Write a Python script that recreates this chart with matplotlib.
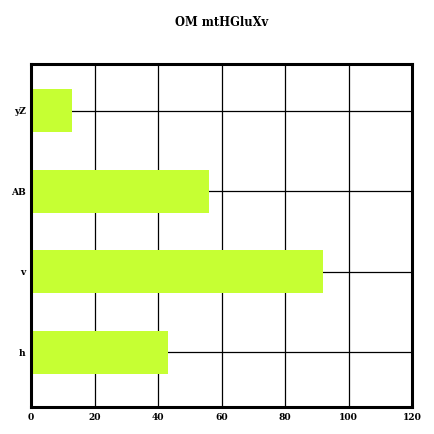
import matplotlib
matplotlib.use('Agg')
import matplotlib.pyplot as plt

# data
categories = ['h', 'v', 'AB', 'yZ']
values = [43, 92, 56, 13]
x_ticks = [0, 20, 40, 60, 80, 100, 120]

plt.rcParams['font.family'] = ['DejaVu Serif']
plt.rcParams['font.weight'] = 'bold'

fig = plt.figure(figsize=(4.34, 4.34), dpi=100)
ax = fig.add_axes([31 / 434, 27 / 434, 381 / 434, 343 / 434])

ax.barh(categories, values, height=0.53, color='#c6ff33', zorder=2)

ax.set_xlim(0, 120)
ax.set_ylim(-0.68, 3.58)
ax.set_xticks(x_ticks)
ax.grid(True, color='black', linewidth=0.9, zorder=0)
ax.set_axisbelow(True)
ax.tick_params(length=0, labelsize=6.6, pad=4)
for s in ax.spines.values():
    s.set_linewidth(2.2)
    s.set_color('black')
for lbl in ax.get_xticklabels() + ax.get_yticklabels():
    lbl.set_fontweight('bold')

# title centred over the axes
fig.text(221.5 / 434, 1 - 22 / 434, 'OM mtHGluXv', ha='center', va='center',
         fontsize=8.3, fontweight='bold')

fig.savefig('out.png', dpi=100)
